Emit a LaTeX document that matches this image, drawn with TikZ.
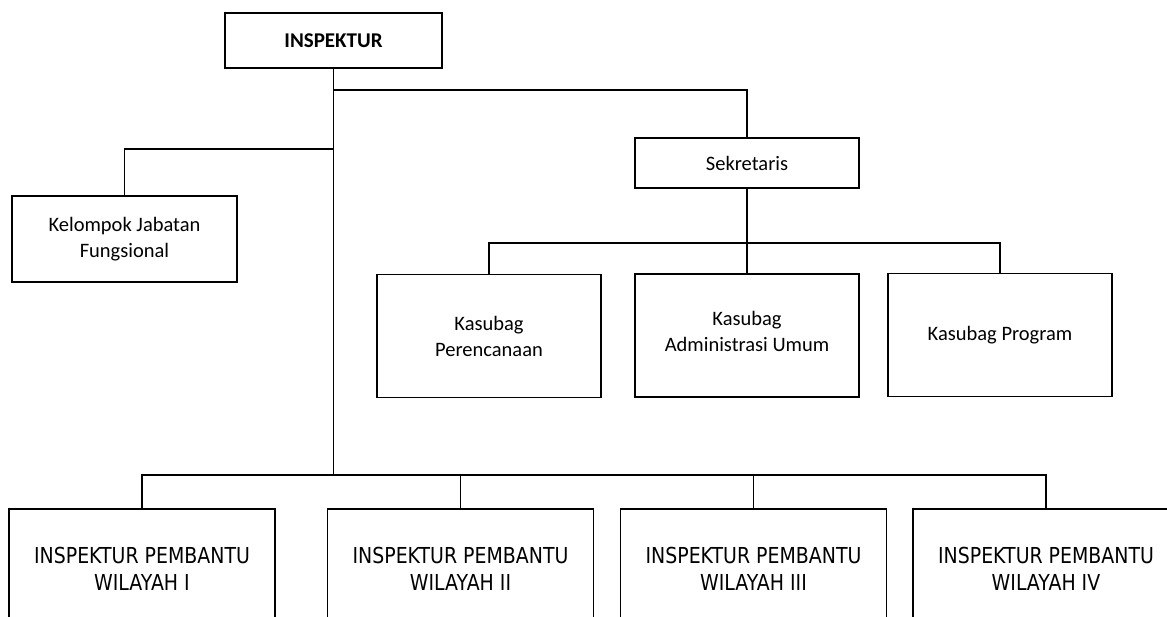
\documentclass[tikz,border=0pt]{standalone}
\usepackage{fontspec}
\setmainfont{Carlito}
\newfontfamily\tahfont{DejaVu Sans}[FakeStretch=0.86]
\begin{document}
\begin{tikzpicture}[x=1pt,y=-1pt,
  box/.style={draw, line width=1.8pt, rectangle, inner sep=0pt, align=center,
    font=\fontsize{20.5}{26}\selectfont},
  topbox/.style={box, font=\bfseries\fontsize{21}{24}\selectfont},
  wbox/.style={box, minimum width=266pt, minimum height=120pt,
    font=\tahfont\fontsize{22}{27}\selectfont},
  kbox/.style={box, minimum width=224pt, minimum height=123pt},
  conn/.style={line width=1.5pt}]
\useasboundingbox (0,0) rectangle (1167,616);
\clip (0,0) rectangle (1167,616);

% nodes
\node[topbox, minimum width=217pt, minimum height=55pt] (insp) at (333.5,40.5) {INSPEKTUR};
\node[box, minimum width=224pt, minimum height=50pt] (sek) at (747,163) {Sekretaris};
\node[box, minimum width=225pt, minimum height=86pt] (kel) at (124.5,239) {Kelompok Jabatan\\Fungsional};
\node[kbox] (kp) at (489,336) {Kasubag\\Perencanaan};
\node[kbox] (ka) at (747,335.5) {Kasubag\\Administrasi Umum\\[-17pt]\mbox{}};
\node[kbox] (kpr) at (1000,335) {Kasubag Program};
\node[wbox] (w1) at (142,569) {INSPEKTUR PEMBANTU\\WILAYAH I};
\node[wbox] (w2) at (460.5,569) {INSPEKTUR PEMBANTU\\WILAYAH II};
\node[wbox] (w3) at (753.5,569) {INSPEKTUR PEMBANTU\\WILAYAH III};
\node[wbox] (w4) at (1046,569) {INSPEKTUR PEMBANTU\\WILAYAH IV};

% junction coordinates
\coordinate (jsek) at (333.5,90);
\coordinate (jkel) at (333.5,149);
\coordinate (jbot) at (333.5,475);
\coordinate (jk) at (747,243);

% connectors
\draw[conn] (insp.south) -- (jbot);
\draw[conn] (jsek) -| (sek.north);
\draw[conn] (jkel) -| (kel.north);
\draw[conn] (sek.south) -- (ka.north);
\draw[conn] (kp.north) |- (jk) -| (kpr.north);
\draw[conn] (w1.north) |- (jbot) -| (w4.north);
\draw[conn] (w2.north) -- (w2.north |- jbot);
\draw[conn] (w3.north) -- (w3.north |- jbot);
\end{tikzpicture}
\end{document}
